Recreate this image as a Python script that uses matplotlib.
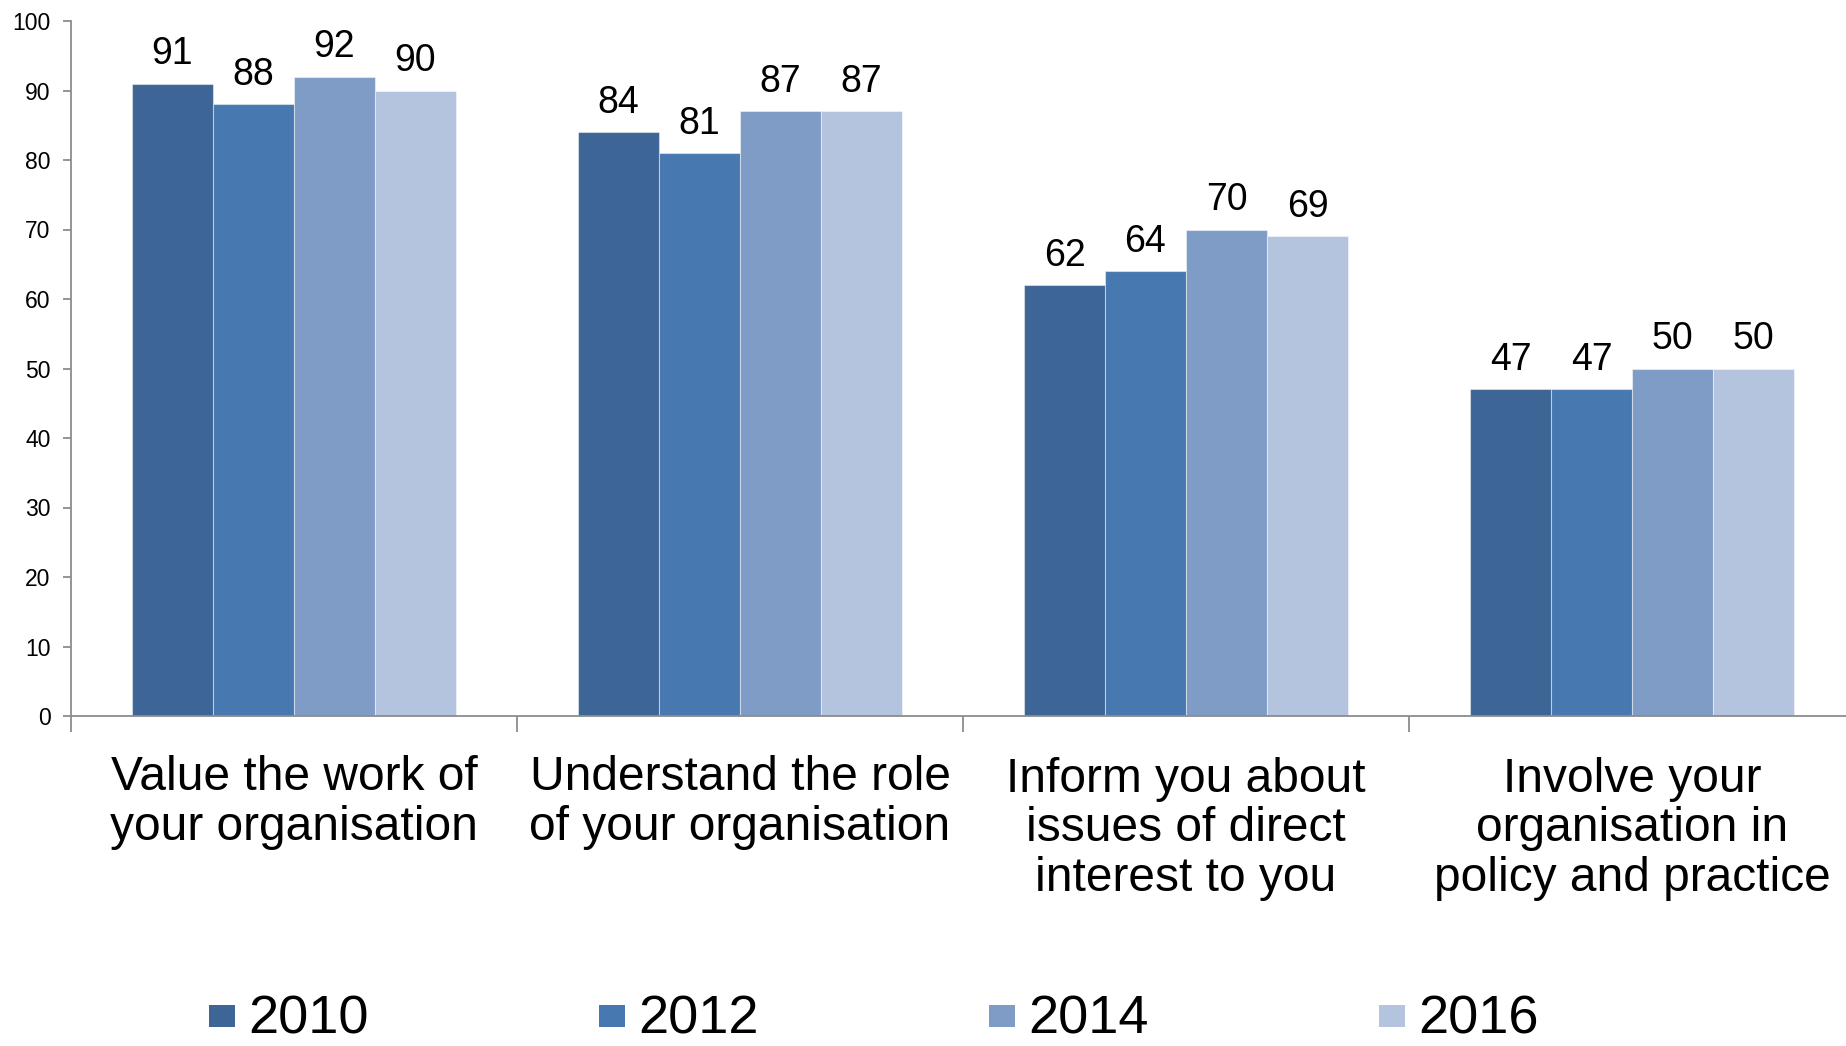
import matplotlib
matplotlib.use("Agg")
import matplotlib.pyplot as plt
from matplotlib.patches import Rectangle
import numpy as np

categories = ["Value the work of\nyour organisation",
              "Understand the role\nof your organisation",
              "Inform you about\nissues of direct\ninterest to you",
              "Involve your\norganisation in\npolicy and practice"]
years = ["2010", "2012", "2014", "2016"]
values = {
    "2010": [91, 84, 62, 47],
    "2012": [88, 81, 64, 47],
    "2014": [92, 87, 70, 50],
    "2016": [90, 87, 69, 50],
}
colors = ["#3D6596", "#4878B0", "#7F9CC7", "#B4C3DE"]
yticks = [0, 10, 20, 30, 40, 50, 60, 70, 80, 90, 100]

W, H = 1846, 1046
fig = plt.figure(figsize=(W / 100, H / 100), dpi=100)
ax_bottom_px = 716
ax = fig.add_axes([71 / W, (H - ax_bottom_px) / H, 1784 / W, 695 / H])

base_font = ["Liberation Sans", "DejaVu Sans"]

x = np.arange(len(categories))
bw = 81 / 446
for i, yr in enumerate(years):
    pos = x + (i - 1.5) * bw
    ax.bar(pos, values[yr], width=bw, color=colors[i],
           edgecolor=(1, 1, 1, 0.45), linewidth=0.8, zorder=2)
    for xp, v in zip(pos, values[yr]):
        ax.annotate(str(v), (xp, v), xytext=(0, 14), textcoords="offset points",
                    ha="center", va="baseline", fontsize=27, family=base_font,
                    color="#000000")

ax.set_xlim(-0.5, 3.5)
ax.set_ylim(0, 100)
ax.set_yticks(yticks)
ax.set_yticklabels([str(t) for t in yticks], fontsize=16.5, family=base_font)
ax.set_xticks(np.arange(-0.5, 3.6, 1.0))
ax.set_xticklabels([])

axis_col = "#8C8C8C"
for s in ["top", "right"]:
    ax.spines[s].set_visible(False)
for s in ["left", "bottom"]:
    ax.spines[s].set_color(axis_col)
    ax.spines[s].set_linewidth(1.3)
ax.tick_params(axis="y", direction="out", length=5.8, width=1.3, color=axis_col,
               pad=9.0, labelcolor="#000000")
ax.tick_params(axis="x", direction="out", length=11.5, width=1.3, color=axis_col)

# category labels (baseline of last line placed according to number of lines)
first_baseline_px = 789
line_step_px = 51
for xi, lab in zip(x, categories):
    n = lab.count("\n") + 1
    y_last = first_baseline_px + line_step_px * (n - 1)
    ax.text(xi, -(y_last - ax_bottom_px) / 695, lab, transform=ax.get_xaxis_transform(),
            ha="center", va="baseline", fontsize=34.5, family=base_font,
            linespacing=1.13, multialignment="center", color="#000000")

# legend
for i, yr in enumerate(years):
    x0 = 209 + 390 * i
    fig.patches.append(Rectangle((x0 / W, (H - 1027) / H), 26 / W, 22 / H,
                                 transform=fig.transFigure, facecolor=colors[i],
                                 edgecolor="none"))
    fig.text((x0 + 39) / W, (H - 1034) / H, yr, ha="left", va="baseline",
             fontsize=39, family=base_font, color="#000000")

fig.savefig("out.png", dpi=100)
